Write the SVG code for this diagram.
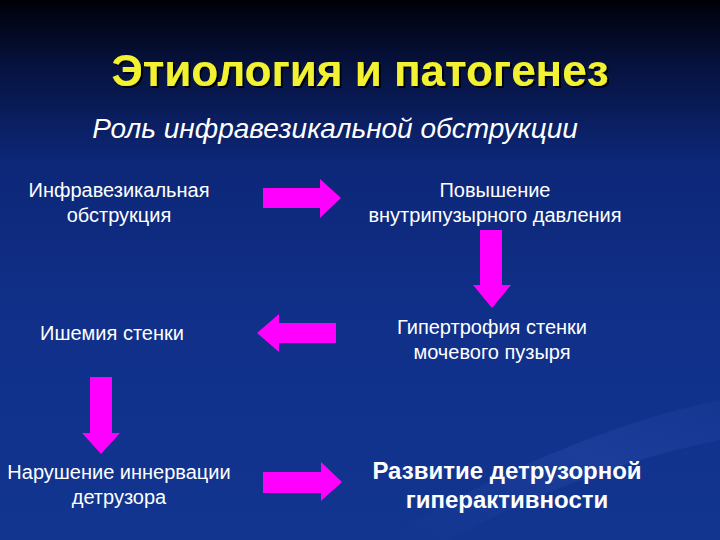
<svg xmlns="http://www.w3.org/2000/svg" width="720" height="540" viewBox="0 0 720 540">
<defs>
<linearGradient id="bg" x1="0" y1="0" x2="0" y2="1">
<stop offset="0" stop-color="#000008"/>
<stop offset="0.12" stop-color="#06123e"/>
<stop offset="0.3" stop-color="#0d2778"/>
<stop offset="0.6" stop-color="#10308a"/>
<stop offset="1" stop-color="#123590"/>
</linearGradient>
<linearGradient id="sw" x1="0" y1="1" x2="1" y2="0">
<stop offset="0" stop-color="#3050b0" stop-opacity="0"/>
<stop offset="0.6" stop-color="#3a5cc0" stop-opacity="0.25"/>
<stop offset="1" stop-color="#3a5cc0" stop-opacity="0.1"/>
</linearGradient>
<filter id="sh" x="-5%" y="-20%" width="110%" height="140%">
<feDropShadow dx="2" dy="2" stdDeviation="0.6" flood-color="#000000" flood-opacity="0.9"/>
</filter>
</defs>
<style>
.t{font-family:"Liberation Sans",Arial,sans-serif;fill:#ffffff;text-anchor:middle;font-size:20px}
.b{font-weight:bold;font-size:24px}
.ar{fill:#ff00ff}
</style>
<rect width="720" height="540" fill="url(#bg)"/>
<path d="M380 540 C500 470 620 420 720 400 L720 440 C620 460 520 500 450 540 Z" fill="url(#sw)"/>
<g id="title">
<text x="360" y="86" font-family="Liberation Sans,Arial,sans-serif" font-weight="bold" font-size="44" fill="#f2f230" text-anchor="middle" filter="url(#sh)">Этиология и патогенез</text>
</g>
<g id="subtitle">
<text x="335" y="138" font-family="Liberation Sans,Arial,sans-serif" font-style="italic" font-size="28" fill="#ffffff" text-anchor="middle">Роль инфравезикальной обструкции</text>
</g>
<g id="n1"><text class="t" x="119" y="197">Инфравезикальная</text><text class="t" x="119" y="222">обструкция</text></g>
<g id="n2"><text class="t" x="495" y="197">Повышение</text><text class="t" x="495" y="222">внутрипузырного давления</text></g>
<g id="n3"><text class="t" x="492" y="334">Гипертрофия стенки</text><text class="t" x="492" y="359">мочевого пузыря</text></g>
<g id="n4"><text class="t" x="112" y="340">Ишемия стенки</text></g>
<g id="n5"><text class="t" x="119" y="479">Нарушение иннервации</text><text class="t" x="119" y="504">детрузора</text></g>
<g id="n6"><text class="t b" x="507" y="479">Развитие детрузорной</text><text class="t b" x="507" y="508">гиперактивности</text></g>
<g id="connectors">
<polygon class="ar" points="263,188 320,188 320,179 341,198 320,218 320,208 263,208"/>
<polygon class="ar" points="336,323 279,323 279,314 257,333 279,352 279,343 336,343"/>
<polygon class="ar" points="480,230 502,230 502,285 511,285 492,308 473,285 480,285"/>
<polygon class="ar" points="90,377 112,377 112,433 120,433 101,454 82,433 90,433"/>
<polygon class="ar" points="263,472 321,472 321,462 342,482 321,501 321,493 263,493"/>
</g>
</svg>
